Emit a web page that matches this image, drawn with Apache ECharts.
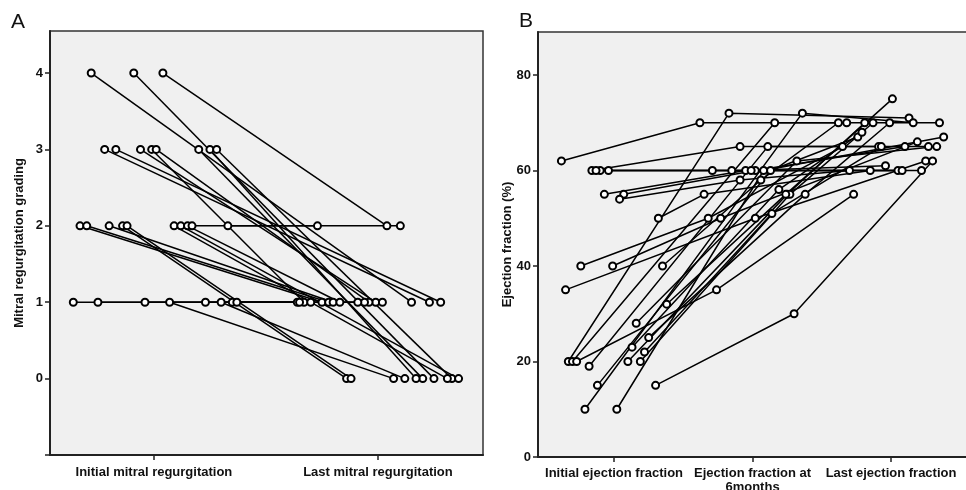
<!DOCTYPE html>
<html>
<head>
<meta charset="utf-8">
<script src="https://cdn.jsdelivr.net/npm/echarts@6/dist/echarts.min.js"></script>
<style>
html, body { margin: 0; padding: 0; background: #fff; }
#chart { width: 966px; height: 490px; }
</style>
</head>
<body>
<div id="chart"></div>
<script>
// ---- Panel A: mitral regurgitation grade, initial vs last (one line per patient) ----
const mrCategories = ['Initial mitral regurgitation', 'Last mitral regurgitation'];
const mrInitial = [4, 4, 4, 3, 3, 3, 3, 3, 3, 3, 3, 2, 2, 2, 2, 2, 2, 2, 2, 2, 2, 1, 1, 1, 1, 1, 1, 1, 1];
const mrInitialJitter = [-0.28, -0.09, 0.04, -0.22, -0.17, -0.06, -0.01, 0.01, 0.20, 0.25, 0.28,
    -0.33, -0.30, -0.20, -0.14, -0.12, 0.09, 0.12, 0.15, 0.17, 0.33,
    -0.36, -0.25, -0.04, 0.07, 0.23, 0.30, 0.35, 0.37];
const mrLast = [1, 0, 2, 1, 1, 1, 1, 1, 0, 0, 0, 1, 1, 1, 0, 0, 0, 0, 1, 2, 2, 1, 1, 1, 0, 1, 0, 1, 1];
const mrLastJitter = [0.15, 0.25, 0.04, 0.23, 0.28, -0.01, -0.33, -0.04, 0.20, 0.17, 0.33,
    -0.25, -0.22, -0.20, -0.14, -0.12, 0.31, 0.36, -0.17, 0.10, -0.27,
    -0.36, -0.35, 0.02, 0.07, -0.30, 0.12, -0.06, -0.09];

// ---- Panel B: ejection fraction (%), initial / 6 months / last ----
const efCategories = ['Initial ejection fraction', 'Ejection fraction at\n6months', 'Last ejection fraction'];
const efInitial = [62, 60, 60, 60, 55, 55, 54, 50, 40, 40, 35, 20, 20, 20, 19, 15, 10, 10, 20, 20, 23, 22, 25, 28, 15, 32, 40, 60];
const efInitialJitter = [-0.38, -0.16, -0.10, -0.04, -0.07, 0.07, 0.04, 0.32, -0.24, -0.01, -0.35, -0.33, -0.30, -0.27,
    -0.18, -0.12, -0.21, 0.02, 0.10, 0.19, 0.13, 0.22, 0.25, 0.16, 0.30, 0.38, 0.35, -0.13];
const ef6m = [70, 65, 60, 60, 60, 60, 58, 55, 50, 50, 50, 72, 70, 35, 65, 60, 72, 60, 55, 55, 56, 51, 55, 62, 30, 55, 58, 60];
const ef6mJitter = [-0.38, -0.09, -0.29, -0.15, -0.05, 0.02, -0.09, -0.35, -0.32, -0.23, 0.02, -0.17, 0.16, -0.26,
    0.11, 0.13, 0.36, 0.08, 0.25, 0.27, 0.19, 0.14, 0.38, 0.32, 0.30, 0.24, 0.06, -0.01];
const efLast = [70, 65, 60, 60, 61, 65, 60, 60, 65, 66, 62, 71, 70, 55, 65, 67, 70, 67, 70, 70, 68, 65, 70, 65, 62, 75, 70, 60];
const efLastJitter = [-0.32, -0.09, 0.22, 0.05, -0.04, 0.10, -0.30, -0.15, -0.35, 0.19, 0.25, 0.13, 0.35, -0.27,
    0.27, -0.24, 0.16, 0.38, -0.19, -0.13, -0.21, -0.07, -0.01, 0.33, 0.30, 0.01, -0.38, 0.08];

let chart = echarts.init(document.getElementById('chart'));

const font = 'Liberation Sans, Arial, sans-serif';
const ink = '#111';

const labelStyle = {
    color: ink,
    fontSize: 13,
    fontWeight: 'bold',
    fontFamily: font
};

const lineStyle = {
    type: 'line',
    symbol: 'emptyCircle',
    symbolSize: 7,
    silent: true,
    animation: false,
    lineStyle: { color: '#000', width: 1.5 },
    itemStyle: { color: '#000', borderWidth: 1.2 },
    emphasis: { disabled: true }
};

let series = [];
mrInitial.forEach((v, i) => {
    series.push(Object.assign({}, lineStyle, {
        xAxisIndex: 0,
        yAxisIndex: 0,
        data: [[1 + mrInitialJitter[i], v], [2 + mrLastJitter[i], mrLast[i]]]
    }));
});
efInitial.forEach((v, i) => {
    series.push(Object.assign({}, lineStyle, {
        xAxisIndex: 1,
        yAxisIndex: 1,
        data: [
            [1 + efInitialJitter[i], v],
            [2 + ef6mJitter[i], ef6m[i]],
            [3 + efLastJitter[i], efLast[i]]
        ]
    }));
});

const axisLine = { onZero: false, lineStyle: { color: '#222', width: 2 } };
const axisTick = { show: true, inside: false, length: 5, lineStyle: { color: '#222', width: 1.5 } };

let option = {
    backgroundColor: '#fff',
    animation: false,
    graphic: [
        { type: 'text', left: 11, top: 12, style: { text: 'A', fontSize: 21, fontFamily: font, fill: '#111' } },
        { type: 'text', left: 519, top: 11, style: { text: 'B', fontSize: 21, fontFamily: font, fill: '#111' } }
    ],
    grid: [
        { left: 50, top: 31, width: 433, height: 424, outerBoundsMode: 'none', show: true, backgroundColor: '#f0f0f0', borderColor: '#333', borderWidth: 1.5 },
        { left: 538, top: 32, width: 445, height: 425, outerBoundsMode: 'none', show: true, backgroundColor: '#f0f0f0', borderColor: '#333', borderWidth: 1.5 }
    ],
    xAxis: [
        {
            gridIndex: 0,
            type: 'value',
            min: 0.536,
            max: 2.469,
            splitLine: { show: false },
            axisLine: axisLine,
            axisTick: Object.assign({}, axisTick, { customValues: [1, 2] }),
            axisLabel: Object.assign({}, labelStyle, {
                margin: 11,
                customValues: [1, 2],
                formatter: (v) => mrCategories[Math.round(v) - 1]
            })
        },
        {
            gridIndex: 1,
            type: 'value',
            min: 0.451,
            max: 0.451 + 445 / 138.5,
            splitLine: { show: false },
            axisLine: axisLine,
            axisTick: Object.assign({}, axisTick, { customValues: [1, 2, 3] }),
            axisLabel: Object.assign({}, labelStyle, {
                margin: 9,
                lineHeight: 14,
                customValues: [1, 2, 3],
                formatter: (v) => efCategories[Math.round(v) - 1]
            })
        }
    ],
    yAxis: [
        {
            gridIndex: 0,
            type: 'value',
            name: 'Mitral regurgitation grading',
            nameLocation: 'middle',
            nameGap: 24,
            nameMoveOverlap: false,
            nameTextStyle: labelStyle,
            min: -1,
            max: 4.55,
            interval: 1,
            splitLine: { show: false },
            axisLine: axisLine,
            axisTick: axisTick,
            axisLabel: Object.assign({}, labelStyle, {
                margin: 7,
                showMaxLabel: false,
                formatter: (v) => (v < 0 ? '' : v)
            })
        },
        {
            gridIndex: 1,
            type: 'value',
            name: 'Ejection fraction (%)',
            nameLocation: 'middle',
            nameGap: 24,
            nameMoveOverlap: false,
            nameTextStyle: labelStyle,
            min: 0,
            max: 89,
            interval: 20,
            splitLine: { show: false },
            axisLine: axisLine,
            axisTick: axisTick,
            axisLabel: Object.assign({}, labelStyle, { margin: 7, showMaxLabel: false })
        }
    ],
    series: series
};

chart.setOption(option);
</script>
</body>
</html>
